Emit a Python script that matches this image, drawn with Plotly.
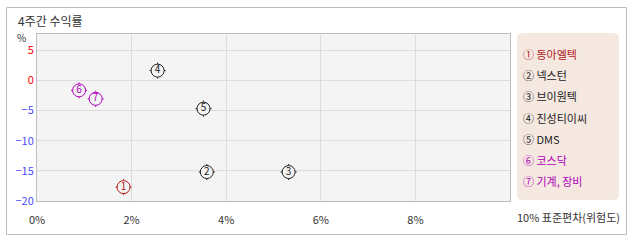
import plotly.graph_objects as go

names = ["동아엘텍", "넥스턴", "브이원텍", "진성티이씨", "DMS", "코스닥", "기계, 장비"]
nums = ["1", "2", "3", "4", "5", "6", "7"]
circled = ["①", "②", "③", "④", "⑤", "⑥", "⑦"]
risk = [1.83, 3.59, 5.32, 2.55, 3.52, 0.89, 1.24]
ret = [-17.7, -15.2, -15.2, 1.6, -4.7, -1.67, -3.07]
colors = ["#b01818", "#222222", "#222222", "#222222", "#222222", "#b000b8", "#b000b8"]

x_ticks = [0, 2, 4, 6, 8]
x_labels = ["0%", "2%", "4%", "6%", "8%"]
y_ticks = [5, 0, -5, -10, -15, -20]
y_labels = ["5", "0", "−5", "−10", "−15", "−20"]
y_colors = ["#ff0000", "#ff0000", "#4b4bff", "#4b4bff", "#4b4bff", "#4b4bff"]

W, H = 638, 242
L, R, T, B = 37, 510, 34, 201
FONT = "Noto Sans CJK KR"

def px(x):
    return (x - L) / (R - L)

def py(y):
    return (B - y) / (B - T)

fig = go.Figure()
fig.add_trace(go.Scatter(x=risk, y=ret, mode="markers",
    marker=dict(symbol="cross-thin-open", size=11.5, color=colors, line=dict(color=colors, width=1)),
    hoverinfo="skip", showlegend=False))
fig.add_trace(go.Scatter(x=risk, y=ret, mode="markers+text", text=nums,
    textposition="middle center",
    textfont=dict(family=FONT, size=10, color=colors),
    marker=dict(symbol="circle", size=13, color="#f4f4f4", line=dict(color=colors, width=1)),
    showlegend=False))

# legend box
lx0, lx1, ly0, ly1, rr = 517, 619, 33, 200, 6
path = (f"M {px(lx0+rr)} {py(ly0)} L {px(lx1-rr)} {py(ly0)} "
        f"Q {px(lx1)} {py(ly0)} {px(lx1)} {py(ly0+rr)} L {px(lx1)} {py(ly1-rr)} "
        f"Q {px(lx1)} {py(ly1)} {px(lx1-rr)} {py(ly1)} L {px(lx0+rr)} {py(ly1)} "
        f"Q {px(lx0)} {py(ly1)} {px(lx0)} {py(ly1-rr)} L {px(lx0)} {py(ly0+rr)} "
        f"Q {px(lx0)} {py(ly0)} {px(lx0+rr)} {py(ly0)} Z")
shapes = [
    dict(type="rect", xref="paper", yref="paper", x0=px(6.5), x1=px(626.5), y0=py(7.5), y1=py(234.5),
         line=dict(color="#bdbdbd", width=1), fillcolor="rgba(0,0,0,0)", layer="below"),
    dict(type="path", xref="paper", yref="paper", path=path, fillcolor="#f5e8e1", line=dict(width=0)),
]
annotations = [
    dict(text="4주간 수익률", xref="paper", yref="paper", x=px(16), y=py(20), xanchor="left", yanchor="middle",
         showarrow=False, font=dict(family=FONT, size=12, color="#333333")),
    dict(text="%", xref="paper", yref="paper", x=px(28), y=py(37), xanchor="right", yanchor="middle",
         showarrow=False, font=dict(family=FONT, size=10, color="#333333")),
    dict(text="10% 표준편차(위험도)", xref="paper", yref="paper", x=px(622), y=py(217), xanchor="right", yanchor="middle",
         showarrow=False, font=dict(family=FONT, size=11, color="#333333")),
]
for i, (c, n, col) in enumerate(zip(circled, names, colors)):
    annotations.append(dict(text=f"{c} {n}", xref="paper", yref="paper", x=px(521), y=py(54 + i * 21.2),
                            xanchor="left", yanchor="middle", showarrow=False,
                            font=dict(family=FONT, size=11, color=col)))

fig.update_layout(
    width=W, height=H, margin=dict(l=L, r=W - R, t=T, b=H - B),
    paper_bgcolor="white", plot_bgcolor="#f4f4f4",
    font=dict(family=FONT, size=11, color="#333333"),
    xaxis=dict(range=[0, 10], tickvals=x_ticks, ticktext=x_labels, showgrid=True, gridcolor="#dcdcdc",
               zeroline=False, showline=True, linecolor="#bdbdbd", mirror=True, ticks="", ticklen=0,
               ticklabelstandoff=9, tickfont=dict(size=11, color="#333333")),
    yaxis=dict(range=[-20, 7.67], tickvals=y_ticks,
               ticktext=[f"<span style='color:{c}'>{t}</span>" for t, c in zip(y_labels, y_colors)],
               showgrid=True, gridcolor="#dcdcdc", zeroline=False, showline=True, linecolor="#bdbdbd",
               mirror=True, ticks="", tickfont=dict(size=11)),
    shapes=shapes, annotations=annotations,
)
fig.write_html("out.html")
